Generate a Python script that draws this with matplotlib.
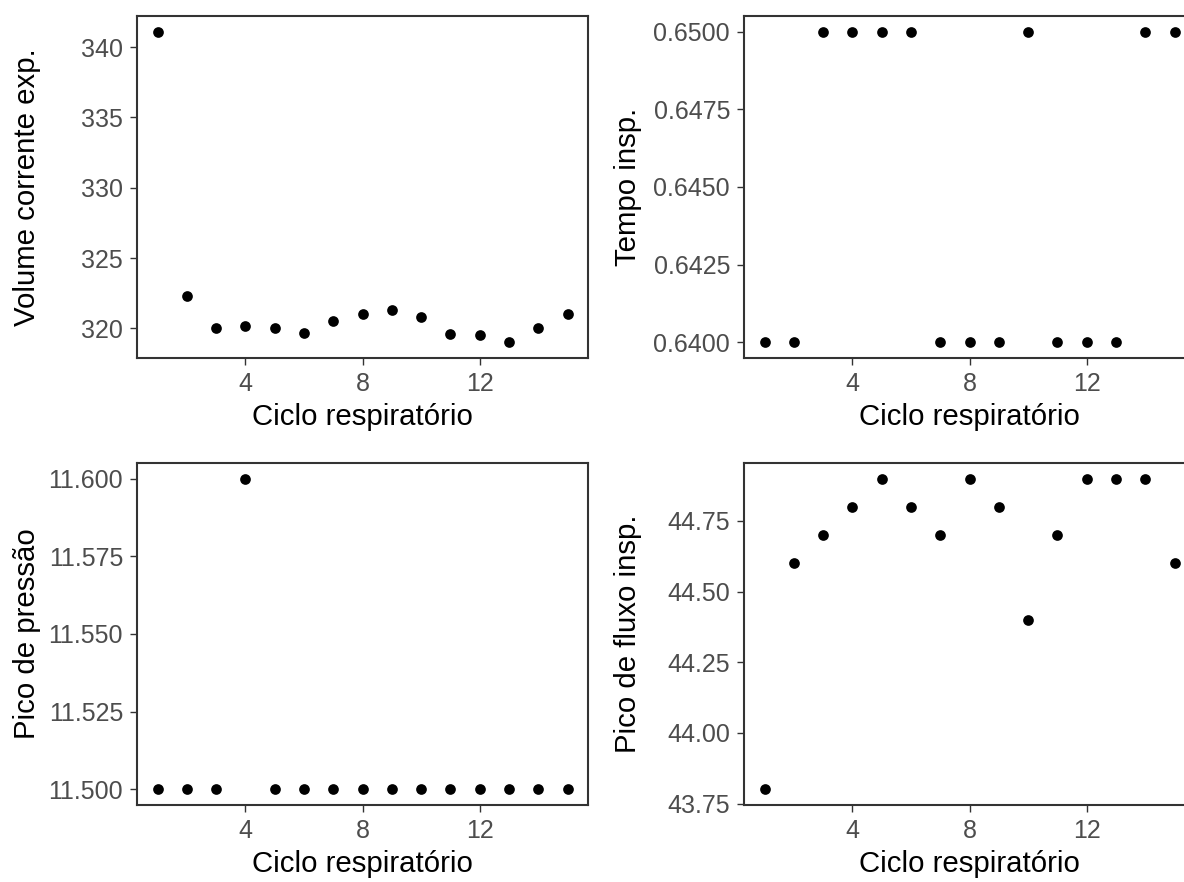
"""
Scatter panels of ventilator parameters per respiratory cycle
"""
import matplotlib
matplotlib.use("Agg")
import matplotlib.pyplot as plt
from matplotlib.ticker import FormatStrFormatter

ciclo = list(range(1, 16))
volume_corrente = [341.1, 322.3, 320.0, 320.2, 320.0, 319.7, 320.5, 321.0,
                   321.3, 320.8, 319.6, 319.5, 319.0, 320.0, 321.0]
tempo_insp = [0.640, 0.640, 0.650, 0.650, 0.650, 0.650, 0.640, 0.640,
              0.640, 0.650, 0.640, 0.640, 0.640, 0.650, 0.650]
pico_pressao = [11.5, 11.5, 11.5, 11.6, 11.5, 11.5, 11.5, 11.5,
                11.5, 11.5, 11.5, 11.5, 11.5, 11.5, 11.5]
pico_fluxo = [43.8, 44.6, 44.7, 44.8, 44.9, 44.8, 44.7, 44.9,
              44.8, 44.4, 44.7, 44.9, 44.9, 44.9, 44.6]

x_ticks = [4, 8, 12]
x_label = "Ciclo respiratório"

panels = [
    (volume_corrente, "Volume corrente exp.", [320, 325, 330, 335, 340], "%d"),
    (tempo_insp, "Tempo insp.", [0.64, 0.6425, 0.645, 0.6475, 0.65], "%.4f"),
    (pico_pressao, "Pico de pressão", [11.5, 11.525, 11.55, 11.575, 11.6], "%.3f"),
    (pico_fluxo, "Pico de fluxo insp.", [43.75, 44.0, 44.25, 44.5, 44.75], "%.2f"),
]

W, H = 1184, 882
plt.rcParams["font.family"] = ["Liberation Sans", "DejaVu Sans"]


def main():
    fig = plt.figure(figsize=(W / 100, H / 100), dpi=100)
    fig.patch.set_facecolor("white")

    # pixel boxes: (left, top, right, bottom)
    boxes = [(137, 16, 588, 358), (744, 16, 1195, 358),
             (137, 463, 588, 805), (744, 463, 1195, 805)]
    label_x = [41, 642, 41, 642]

    for (vals, ylab, yt, fmt), (l, t, r, b), lx in zip(panels, boxes, label_x):
        ax = fig.add_axes([l / W, 1 - b / H, (r - l) / W, (b - t) / H])
        ax.plot(ciclo, vals, "o", color="black", markersize=7.7,
                markeredgewidth=0)
        ax.margins(x=0.05, y=0.05)
        ax.set_xticks(x_ticks)
        ax.set_yticks(yt)
        ax.yaxis.set_major_formatter(FormatStrFormatter(fmt))
        for s in ax.spines.values():
            s.set_color("#333333")
            s.set_linewidth(1.5)
        ax.tick_params(length=5, width=1, color="#333333",
                       labelcolor="#4D4D4D", labelsize=18, pad=5)
        ax.set_xlabel(x_label, fontsize=21.2, color="black", labelpad=5)
        ax.set_ylabel(ylab, fontsize=21.2, color="black")
        ax.yaxis.set_label_coords((lx - l) / (r - l), 0.5)

    fig.savefig("out.png", dpi=100)


if __name__ == "__main__":
    main()
